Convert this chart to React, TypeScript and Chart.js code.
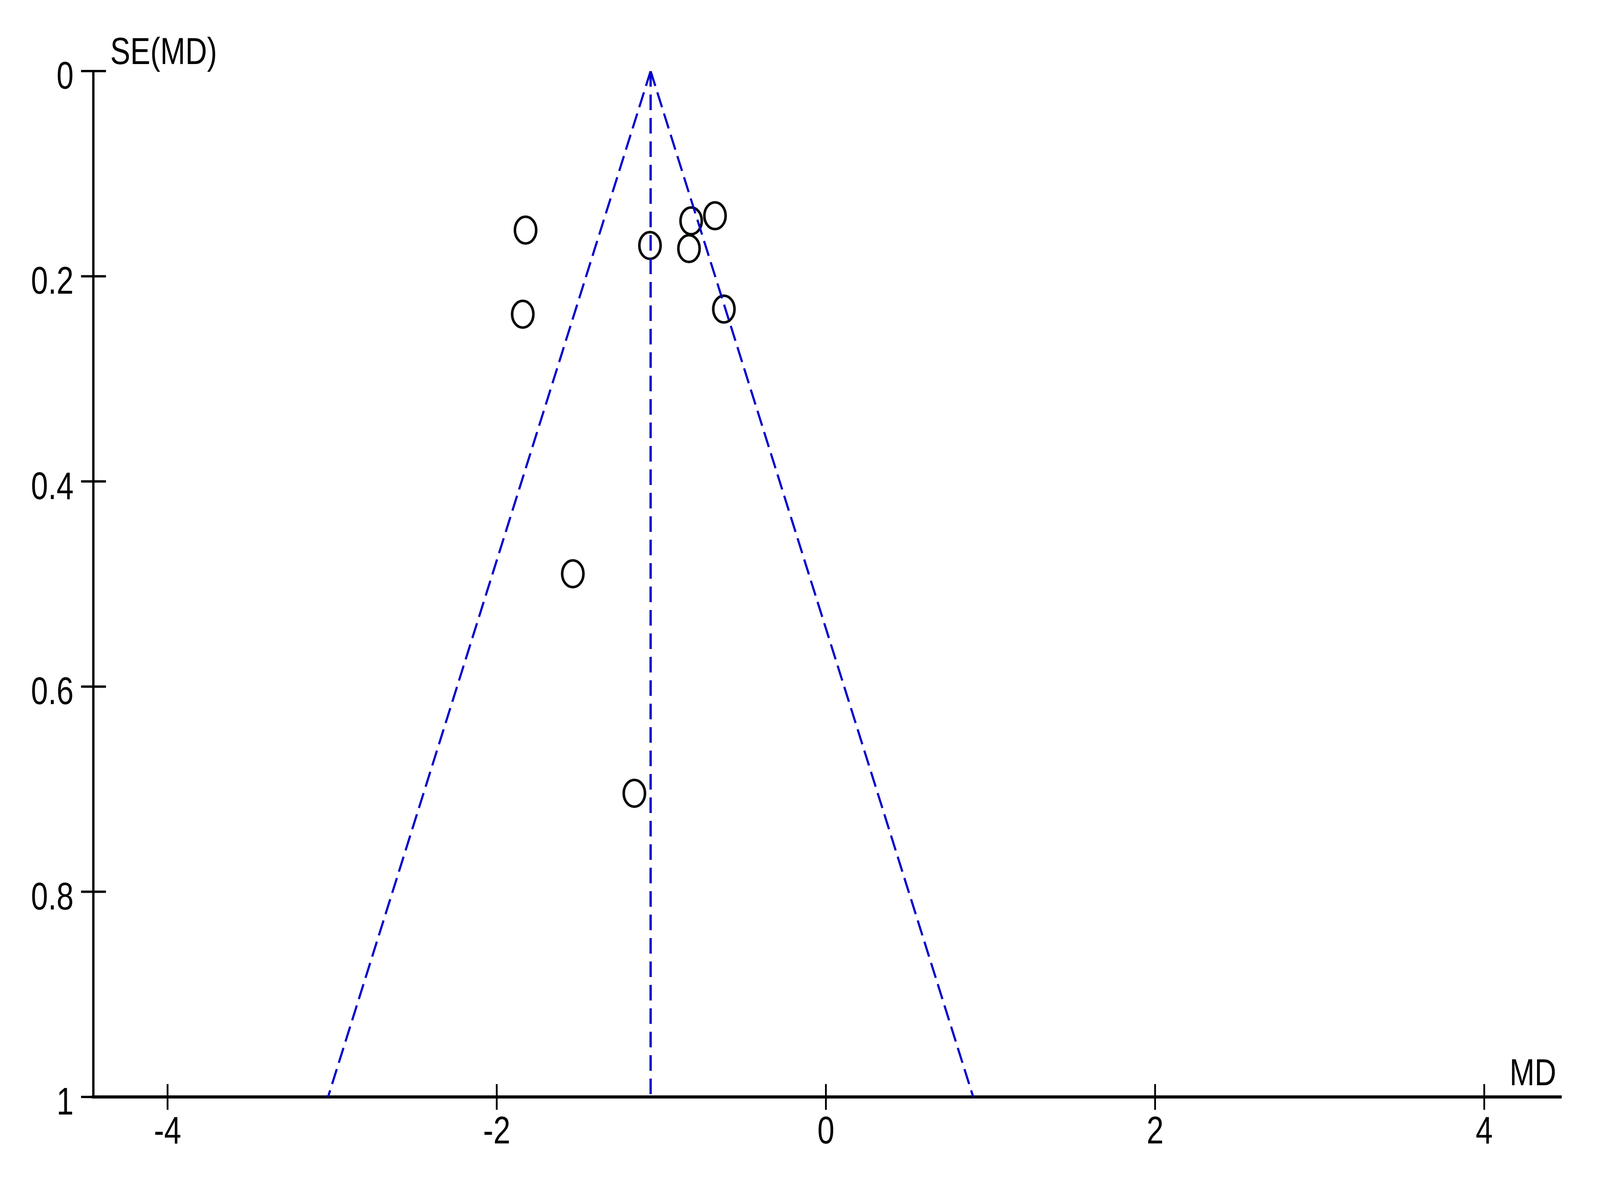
import { useEffect, useRef, useState } from "react";
import { Chart, registerables } from "chart.js";

Chart.register(...registerables);

// ---- data ----
const studyMD = [-1.825, -1.842, -1.069, -0.819, -0.674, -0.832, -0.62, -1.538, -1.164];
const studySE = [0.155, 0.237, 0.17, 0.146, 0.141, 0.173, 0.232, 0.49, 0.704];
const pooledMD = -1.065;
const zCrit = 1.96;
const seLimit = 1;
const xTickValues = [-4, -2, 0, 2, 4];
const yTickValues = [0, 0.2, 0.4, 0.6, 0.8, 1];
const xAxisTitle = "MD";
const yAxisTitle = "SE(MD)";

const REF_W = 4500;
const REF_H = 3014;
const FONT_FAMILY = "'Liberation Sans', Arial, sans-serif";
const FUNNEL_BLUE = "#0000CC";

function makeEllipseMarker(w: number, h: number, lw: number): HTMLCanvasElement {
  const c = document.createElement("canvas");
  c.width = Math.ceil(w) + 2;
  c.height = Math.ceil(h) + 2;
  const g = c.getContext("2d");
  if (g) {
    g.strokeStyle = "#000";
    g.lineWidth = lw;
    g.beginPath();
    g.ellipse(c.width / 2, c.height / 2, (w - lw) / 2, (h - lw) / 2, 0, 0, Math.PI * 2);
    g.stroke();
  }
  return c;
}

export default function App() {
  const canvasRef = useRef<HTMLCanvasElement | null>(null);
  const [size] = useState(() => ({
    w: typeof window !== "undefined" && window.innerWidth ? window.innerWidth : REF_W,
    h: typeof window !== "undefined" && window.innerHeight ? window.innerHeight : REF_H,
  }));

  useEffect(() => {
    const canvas = canvasRef.current;
    if (!canvas) return;
    const W = size.w;
    const H = size.h;
    const sx = W / REF_W;
    const sy = H / REF_H;
    const digitSize = 98 * sy;
    const titleSize = 96 * sy;
    const squeeze = 0.88 * sx; // the reference uses a narrow bitmap font

    const drawText = (ctx: any, text: string, x: number, baseline: number, align: "left" | "right" | "center", size: number) => {
      ctx.save();
      ctx.font = `${size}px ${FONT_FAMILY}`;
      ctx.textAlign = "left";
      ctx.textBaseline = "alphabetic";
      const w = ctx.measureText(text).width * squeeze;
      let left = x;
      if (align === "right") left = x - w;
      if (align === "center") left = x - w / 2;
      ctx.translate(left, baseline);
      ctx.scale(squeeze, 1);
      ctx.fillText(text, 0, 0);
      ctx.restore();
    };

    const decorPlugin = {
      id: "decor",
      afterDraw(chart: any) {
        const ctx = chart.ctx;
        const xs = chart.scales.x;
        const ys = chart.scales.y;
        const area = chart.chartArea;
        ctx.save();
        ctx.strokeStyle = "#000";
        ctx.lineWidth = 5 * sx;
        ctx.beginPath();
        for (const t of xs.ticks) {
          const px = xs.getPixelForValue(t.value);
          ctx.moveTo(px, area.bottom - 33 * sy);
          ctx.lineTo(px, area.bottom + 33 * sy);
        }
        ctx.stroke();
        ctx.lineWidth = 6 * sy;
        ctx.beginPath();
        for (const t of ys.ticks) {
          const py = ys.getPixelForValue(t.value);
          ctx.moveTo(area.left - 35 * sx, py);
          ctx.lineTo(area.left + 35 * sx, py);
        }
        ctx.stroke();

        ctx.fillStyle = "#000";
        // tick labels, placed with the library's scales
        for (const t of xs.ticks) {
          const px = xs.getPixelForValue(t.value);
          drawText(ctx, String(t.value), px, area.bottom + 84 * sy + 0.358 * digitSize, "center", digitSize);
        }
        for (const t of ys.ticks) {
          const py = ys.getPixelForValue(t.value);
          drawText(ctx, String(t.value), area.left - 56 * sx, py + 10 * sy + 0.358 * digitSize, "right", digitSize);
        }
        // axis titles
        drawText(ctx, yAxisTitle, area.left + 47 * sx, area.top - 18 * sy, "left", titleSize);
        drawText(ctx, xAxisTitle, area.right - 15 * sx, area.bottom - 30 * sy, "right", titleSize);
        ctx.restore();
      },
    };

    const funnelLeft = [
      { x: pooledMD, y: 0 },
      { x: pooledMD - zCrit * seLimit, y: seLimit },
    ];
    const funnelRight = [
      { x: pooledMD, y: 0 },
      { x: pooledMD + zCrit * seLimit, y: seLimit },
    ];
    const centerLine = [
      { x: pooledMD, y: 0 },
      { x: pooledMD, y: seLimit },
    ];
    const studies = studyMD.map((md, i) => ({ x: md, y: studySE[i] }));
    const marker = makeEllipseMarker(67 * sx, 75 * sy, 6.5);

    const chart = new Chart(canvas, {
      type: "scatter",
      data: {
        datasets: [
          {
            data: funnelLeft,
            showLine: true,
            borderColor: FUNNEL_BLUE,
            borderWidth: 5.5,
            borderDash: [40, 17],
            pointRadius: 0,
            fill: false,
          },
          {
            data: funnelRight,
            showLine: true,
            borderColor: FUNNEL_BLUE,
            borderWidth: 5.5,
            borderDash: [40, 17],
            pointRadius: 0,
            fill: false,
          },
          {
            data: centerLine,
            showLine: true,
            borderColor: FUNNEL_BLUE,
            borderWidth: 6.5 * sx,
            borderDash: [40, 20],
            pointRadius: 0,
            fill: false,
          },
          {
            data: studies,
            showLine: false,
            pointStyle: marker,
            pointRadius: 34,
            pointHoverRadius: 34,
            borderColor: "#000",
            backgroundColor: "rgba(0,0,0,0)",
          },
        ],
      } as any,
      options: {
        responsive: false,
        animation: false,
        devicePixelRatio: 1,
        events: [],
        layout: { padding: { left: 0, right: 108 * sx, top: 182 * sy, bottom: 0 } },
        plugins: {
          legend: { display: false },
          tooltip: { enabled: false },
          title: { display: false },
        },
        scales: {
          x: {
            type: "linear",
            position: "bottom",
            min: -4.45,
            max: 4.47,
            afterBuildTicks: (s: any) => {
              s.ticks = xTickValues.map((v) => ({ value: v }));
            },
            afterFit: (s: any) => {
              s.height = 205 * sy;
            },
            grid: { display: false, drawTicks: false },
            border: { display: true, color: "#000", width: 8 * sy },
            ticks: { display: false },
          },
          y: {
            type: "linear",
            position: "left",
            reverse: true,
            min: 0,
            max: 1,
            afterBuildTicks: (s: any) => {
              s.ticks = yTickValues.map((v) => ({ value: v }));
            },
            afterFit: (s: any) => {
              s.width = 263 * sx;
            },
            grid: { display: false, drawTicks: false },
            border: { display: true, color: "#000", width: 6.5 * sx },
            ticks: { display: false },
          },
        },
      } as any,
      plugins: [decorPlugin],
    });

    return () => {
      chart.destroy();
    };
  }, [size]);

  return (
    <div style={{ position: "absolute", left: 0, top: 0, width: size.w, height: size.h, background: "#fff", overflow: "hidden" }}>
      <canvas ref={canvasRef} width={size.w} height={size.h} style={{ width: size.w, height: size.h, display: "block" }} />
    </div>
  );
}
